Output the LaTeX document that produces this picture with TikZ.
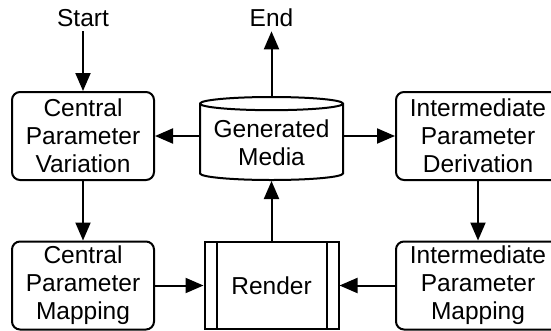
\documentclass[tikz,border=0pt]{standalone}
\usepackage{fontspec}
\setmainfont{Liberation Sans}
\usetikzlibrary{shapes.geometric,arrows.meta}

\begin{document}
\begin{tikzpicture}[x=1pt,y=-1pt,
  font=\fontsize{24.5}{28}\selectfont,
  line width=2pt,
  stepbox/.style={draw, rounded corners=8pt, align=center, inner sep=2pt,
    minimum width=142pt, minimum height=88pt},
  widebox/.style={stepbox, minimum width=164pt},
  flow/.style={-{Triangle[length=18pt,width=15pt]}}]
\useasboundingbox (0,0) rectangle (551,330);
\node (start) at (83,18) {Start};
\node (end) at (271.5,18) {End};
\node[stepbox] (cpv) at (83,136) {Central\\Parameter\\Variation};
\node[stepbox] (cpm) at (83,285.5) {Central\\Parameter\\Mapping};
\node[draw, cylinder, shape border rotate=90, aspect=0.11, inner sep=2pt,
  minimum width=143pt, minimum height=83pt, align=center,
  anchor=shape center] (media) at (271.5,138.5) {Generated\\Media};
\node[widebox] (imd) at (478,136) {Intermediate\\Parameter\\Derivation};
\node[widebox] (imm) at (478,285.5) {Intermediate\\Parameter\\Mapping};
\node[draw, minimum width=134pt, minimum height=87pt] (render) at (271.5,285.5) {Render};
% side bars of the render box
\draw ([xshift=13pt]render.north west) -- ([xshift=13pt]render.south west);
\draw ([xshift=-13pt]render.north east) -- ([xshift=-13pt]render.south east);
\draw[flow] (start) -- (cpv);
\draw[flow] (media) -- (end);
\draw[flow] (media.west |- cpv.east) -- (cpv.east);
\draw[flow] (media.east |- imd.west) -- (imd.west);
\draw[flow] (cpv) -- (cpm);
\draw[flow] (imd) -- (imm);
\draw[flow] (cpm) -- (render);
\draw[flow] (imm) -- (render);
\draw[flow] (render) -- (media);
\end{tikzpicture}
\end{document}
